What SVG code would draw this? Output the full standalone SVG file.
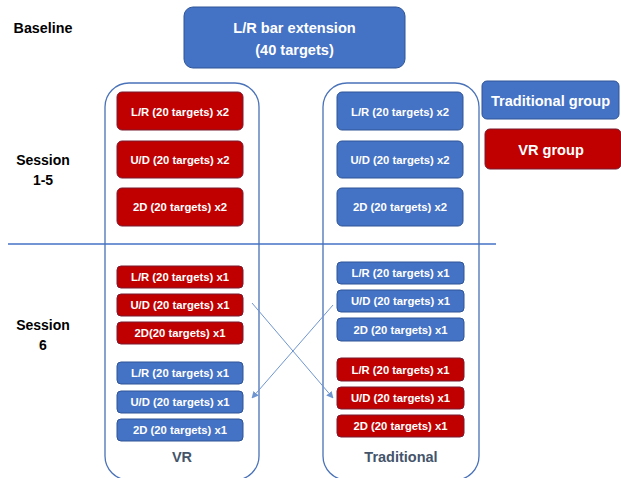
<svg xmlns="http://www.w3.org/2000/svg" width="621" height="478" viewBox="0 0 621 478">
<defs>
<style>
text{font-family:"Liberation Sans",Arial,sans-serif;font-weight:bold;text-anchor:middle}
.lbl{fill:#000;font-size:14px}
.w{fill:#fff}
.s{font-size:11.3px}
.blue{fill:#4472c4;stroke:#2f5597;stroke-width:1}
.red{fill:#c00000;stroke:#7a1a2e;stroke-width:1}
.cont{fill:none;stroke:#4a72b8;stroke-width:1.3}
.conn{stroke:#6f95d0;stroke-width:1;fill:none}
.grp{fill:#44546a;font-size:14.5px}
</style>
<marker id="ah" viewBox="0 0 10 10" refX="9" refY="5" markerWidth="7" markerHeight="7" orient="auto" markerUnits="userSpaceOnUse">
<path d="M0,0 L10,5 L0,10 z" fill="#6f95d0"/>
</marker>
</defs>
<rect width="621" height="478" fill="#fff"/>

<g id="labels">
<text class="lbl" x="43" y="33" style="font-size:14.3px">Baseline</text>
<text class="lbl" x="43" y="165">Session</text>
<text class="lbl" x="43" y="185">1-5</text>
<text class="lbl" x="43" y="330">Session</text>
<text class="lbl" x="43" y="350">6</text>
</g>

<g id="baseline-box">
<rect class="blue" x="184" y="7" width="221" height="61" rx="9"/>
<text class="w" x="294.5" y="33" style="font-size:14.6px">L/R bar extension</text>
<text class="w" x="294.5" y="55" style="font-size:14.6px">(40 targets)</text>
</g>

<g id="divider">
<line x1="8" y1="244" x2="496" y2="244" stroke="#4472c4" stroke-width="1.5"/>
</g>

<g id="vr-container">
<rect class="cont" x="105" y="83" width="154" height="397" rx="24"/>
<text class="grp" x="182" y="462">VR</text>
</g>
<g id="trad-container">
<rect class="cont" x="323" y="83" width="156" height="397" rx="24"/>
<text class="grp" x="401" y="462">Traditional</text>
</g>

<g id="legend-trad">
<rect class="blue" x="482" y="81" width="137" height="38" rx="5"/>
<text class="w" x="550.5" y="106" style="font-size:14.6px">Traditional group</text>
</g>
<g id="legend-vr">
<rect class="red" x="485" y="129" width="136" height="40" rx="5"/>
<text class="w" x="551" y="155" style="font-size:14.6px">VR group</text>
</g>

<g id="vr-s1">
<rect class="red" x="117" y="92" width="126" height="38" rx="5"/>
<text class="w s" x="180" y="115.5">L/R (20 targets) x2</text>
</g>
<g id="vr-s2">
<rect class="red" x="117" y="141" width="126" height="37" rx="5"/>
<text class="w s" x="180" y="163.5">U/D (20 targets) x2</text>
</g>
<g id="vr-s3">
<rect class="red" x="117" y="188" width="126" height="38" rx="5"/>
<text class="w s" x="180" y="211">2D (20 targets) x2</text>
</g>

<g id="tr-s1">
<rect class="blue" x="337" y="92" width="126" height="38" rx="5"/>
<text class="w s" x="400" y="115.5">L/R (20 targets) x2</text>
</g>
<g id="tr-s2">
<rect class="blue" x="337" y="141" width="126" height="37" rx="5"/>
<text class="w s" x="400" y="163.5">U/D (20 targets) x2</text>
</g>
<g id="tr-s3">
<rect class="blue" x="337" y="188" width="126" height="38" rx="5"/>
<text class="w s" x="400" y="211">2D (20 targets) x2</text>
</g>

<g id="vr6-r1">
<rect class="red" x="117" y="266" width="126" height="22" rx="4"/>
<text class="w s" x="180" y="281">L/R (20 targets) x1</text>
</g>
<g id="vr6-r2">
<rect class="red" x="117" y="294" width="126" height="22" rx="4"/>
<text class="w s" x="180" y="309">U/D (20 targets) x1</text>
</g>
<g id="vr6-r3">
<rect class="red" x="117" y="322" width="126" height="22" rx="4"/>
<text class="w s" x="180" y="337">2D(20 targets) x1</text>
</g>
<g id="vr6-b1">
<rect class="blue" x="117" y="362" width="126" height="22" rx="4"/>
<text class="w s" x="180" y="377">L/R (20 targets) x1</text>
</g>
<g id="vr6-b2">
<rect class="blue" x="117" y="391" width="126" height="22" rx="4"/>
<text class="w s" x="180" y="406">U/D (20 targets) x1</text>
</g>
<g id="vr6-b3">
<rect class="blue" x="117" y="419" width="126" height="22" rx="4"/>
<text class="w s" x="180" y="434">2D (20 targets) x1</text>
</g>

<g id="tr6-b1">
<rect class="blue" x="337" y="262" width="127" height="22" rx="4"/>
<text class="w s" x="400.5" y="277">L/R (20 targets) x1</text>
</g>
<g id="tr6-b2">
<rect class="blue" x="337" y="290" width="127" height="22" rx="4"/>
<text class="w s" x="400.5" y="305">U/D (20 targets) x1</text>
</g>
<g id="tr6-b3">
<rect class="blue" x="337" y="318" width="127" height="23" rx="4"/>
<text class="w s" x="400.5" y="333.5">2D (20 targets) x1</text>
</g>
<g id="tr6-r1">
<rect class="red" x="337" y="358" width="127" height="23" rx="4"/>
<text class="w s" x="400.5" y="373.5">L/R (20 targets) x1</text>
</g>
<g id="tr6-r2">
<rect class="red" x="337" y="387" width="127" height="22" rx="4"/>
<text class="w s" x="400.5" y="402">U/D (20 targets) x1</text>
</g>
<g id="tr6-r3">
<rect class="red" x="337" y="415" width="127" height="22" rx="4"/>
<text class="w s" x="400.5" y="430">2D (20 targets) x1</text>
</g>

<g id="connectors">
<line class="conn" x1="252" y1="303" x2="333" y2="398" marker-end="url(#ah)"/>
<line class="conn" x1="333" y1="305" x2="252" y2="398" marker-end="url(#ah)"/>
</g>
</svg>
